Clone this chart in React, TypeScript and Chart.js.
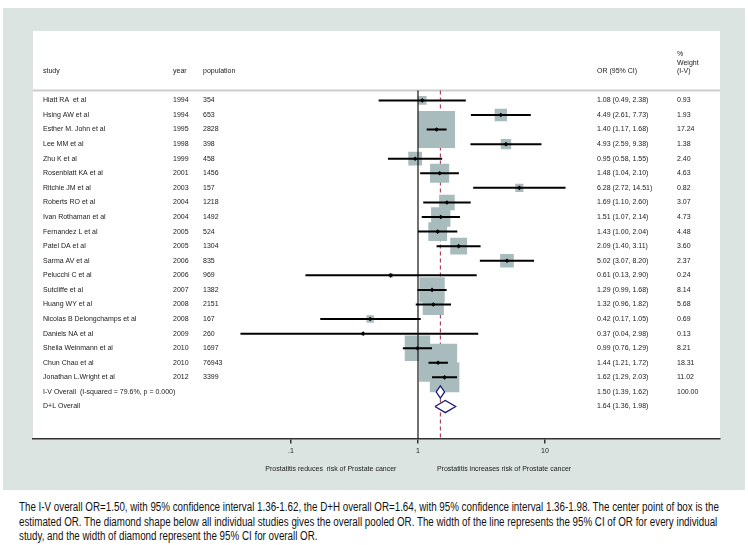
import React, { useEffect, useRef } from "react";
import { Chart, registerables } from "chart.js";
Chart.register(...registerables);

// ---- data ----
const studies = [
  "Hiatt RA  et al", "Hsing AW et al", "Esther M. John et al", "Lee MM et al", "Zhu K et al",
  "Rosenblatt KA et al", "Ritchie JM et al", "Roberts RO et al", "Ivan Rothaman et al", "Fernandez L et al",
  "Patel DA et al", "Sarma AV et al", "Pelucchi C et al", "Sutcliffe et al", "Huang WY et al",
  "Nicolas B Delongchamps et al", "Daniels NA et al", "Sheila Weinmann et al", "Chun Chao et al", "Jonathan L.Wright et al",
];
const years = [1994, 1994, 1995, 1998, 1999, 2001, 2003, 2004, 2004, 2005, 2005, 2006, 2006, 2007, 2008, 2008, 2009, 2010, 2010, 2012];
const populations = [354, 653, 2828, 398, 458, 1456, 157, 1218, 1492, 524, 1304, 835, 969, 1382, 2151, 167, 260, 1697, 76943, 3399];
const orEst = [1.08, 4.49, 1.40, 4.93, 0.95, 1.48, 6.28, 1.69, 1.51, 1.43, 2.09, 5.02, 0.61, 1.29, 1.32, 0.42, 0.37, 0.99, 1.44, 1.62];
const ciLow = [0.49, 2.61, 1.17, 2.59, 0.58, 1.04, 2.72, 1.10, 1.07, 1.00, 1.40, 3.07, 0.13, 0.99, 0.96, 0.17, 0.04, 0.76, 1.21, 1.29];
const ciHigh = [2.38, 7.73, 1.68, 9.38, 1.55, 2.10, 14.51, 2.60, 2.14, 2.04, 3.11, 8.20, 2.90, 1.68, 1.82, 1.05, 2.98, 1.29, 1.72, 2.03];
const weights = [0.93, 1.93, 17.24, 1.38, 2.40, 4.63, 0.82, 3.07, 4.73, 4.48, 3.60, 2.37, 0.24, 8.14, 5.68, 0.69, 0.13, 8.21, 18.31, 11.02];

const pooledLabels = ["I-V Overall  (I-squared = 79.6%, p = 0.000)", "D+L Overall"];
const pooledEst = [1.50, 1.64];
const pooledLow = [1.39, 1.36];
const pooledHigh = [1.62, 1.98];
const pooledWeight = ["100.00", ""];

const xTickValues = [0.1, 1, 10];
const xTickLabels = [".1", "1", "10"];
const favourLabels = ["Prostatitis reduces  risk of Prostate cancer", "Prostatitis increases risk of Prostate cancer"];

const captionLines = [
  "The I-V overall OR=1.50, with 95% confidence interval 1.36-1.62, the D+H overall OR=1.64, with 95% confidence interval 1.36-1.98. The center point of box is the",
  "estimated OR. The diamond shape below all individual studies gives the overall pooled OR. The  width of the line represents the 95% CI of OR for every individual",
  "study, and the width of diamond represent the 95% CI for overall OR.",
];

// ---- layout constants ----
const Y_MIN = -4.76;
const Y_MAX = 23.2;
const SEP_ROW = -0.68;
const X_MIN = 0.00093;
const X_MAX = 238.8;
const COL = { study: 43, year: 173, pop: 203, or: 597, wt: 677 };
const TXT_FONT = '7px "Liberation Sans", Arial, sans-serif';
const CAP_FONT = '12px "Liberation Sans", Arial, sans-serif';
const CAP_WIDTH = 700;

const fmt = (v: number) => v.toFixed(2);

function captionScale(): number {
  try {
    const c = document.createElement("canvas").getContext("2d");
    if (!c) return 0.88;
    c.font = CAP_FONT;
    const w = c.measureText(captionLines[0]).width;
    return w > 0 ? CAP_WIDTH / w : 0.88;
  } catch {
    return 0.88;
  }
}

export default function App() {
  const ref = useRef<HTMLCanvasElement | null>(null);
  const scale = captionScale();

  useEffect(() => {
    if (!ref.current) return;
    const n = studies.length;

    const ciSets = studies.map((_, i) => ({
      type: "line" as const,
      data: [{ x: ciLow[i], y: i }, { x: ciHigh[i], y: i }],
      borderColor: "#000",
      borderWidth: 2,
      pointRadius: 0,
      order: 1,
    }));

    const diamondSets = pooledEst.map((e, k) => {
      const y = n + k;
      return {
        type: "line" as const,
        data: [
          { x: pooledLow[k], y },
          { x: e, y: y - 0.42 },
          { x: pooledHigh[k], y },
          { x: e, y: y + 0.42 },
          { x: pooledLow[k], y },
        ],
        borderColor: "#1c1c7a",
        borderWidth: 1.3,
        backgroundColor: "#ffffff",
        fill: "shape",
        pointRadius: 0,
        order: 1,
      };
    });

    const textPlugin = {
      id: "forestText",
      beforeDraw(chart: any) {
        const { ctx, chartArea: a } = chart;
        ctx.save();
        ctx.fillStyle = "#ffffff";
        ctx.fillRect(a.left, a.top, a.right - a.left, a.bottom - a.top);
        const ys = chart.scales.y.getPixelForValue(SEP_ROW);
        ctx.fillStyle = "#cccccc";
        ctx.fillRect(a.left, ys - 1, a.right - a.left, 2);
        ctx.restore();
      },
      afterDraw(chart: any) {
        const { ctx } = chart;
        const ysc = chart.scales.y;
        const xsc = chart.scales.x;
        ctx.save();
        ctx.font = TXT_FONT;
        ctx.fillStyle = "#1a1a1a";
        ctx.textBaseline = "middle";
        ctx.textAlign = "left";
        const put = (t: string, x: number, row: number) => ctx.fillText(t, x, ysc.getPixelForValue(row));
        put("%", COL.wt, -3.2);
        put("Weight", COL.wt, -2.58);
        put("study", COL.study, -2);
        put("year", COL.year, -2);
        put("population", COL.pop, -2);
        put("OR (95% CI)", COL.or, -2);
        put("(I-V)", COL.wt, -2);
        studies.forEach((s, i) => {
          put(s, COL.study, i);
          put(String(years[i]), COL.year, i);
          put(String(populations[i]), COL.pop, i);
          put(`${fmt(orEst[i])} (${fmt(ciLow[i])}, ${fmt(ciHigh[i])})`, COL.or, i);
          put(fmt(weights[i]), COL.wt, i);
        });
        pooledLabels.forEach((s, k) => {
          const r = studies.length + k;
          put(s, COL.study, r);
          put(`${fmt(pooledEst[k])} (${fmt(pooledLow[k])}, ${fmt(pooledHigh[k])})`, COL.or, r);
          if (pooledWeight[k]) put(pooledWeight[k], COL.wt, r);
        });
        ctx.textAlign = "center";
        ctx.fillText(favourLabels[0], xsc.getPixelForValue(0.206), 469);
        ctx.fillText(favourLabels[1], xsc.getPixelForValue(4.76), 469);
        ctx.restore();
      },
    };

    const chart = new Chart(ref.current, {
      type: "scatter",
      data: {
        datasets: [
          // point estimates
          {
            type: "scatter",
            data: studies.map((_, i) => ({ x: orEst[i], y: i })),
            pointStyle: "rectRot",
            pointRadius: 2.3,
            backgroundColor: "#000",
            borderColor: "#000",
            borderWidth: 0,
            order: 0,
          },
          ...ciSets,
          ...diamondSets,
          // null line at OR = 1
          {
            type: "line",
            data: [{ x: 1, y: SEP_ROW }, { x: 1, y: Y_MAX }],
            borderColor: "#111",
            borderWidth: 1.2,
            pointRadius: 0,
            order: 2,
          },
          // weighted boxes
          {
            type: "scatter",
            data: studies.map((_, i) => ({ x: orEst[i], y: i })),
            pointStyle: "rect",
            pointRadius: weights.map((w) => (8.9 * Math.sqrt(w)) / Math.SQRT2),
            backgroundColor: "#a9bcbd",
            borderWidth: 0,
            order: 3,
          },
          // overall (I-V) dashed line
          {
            type: "line",
            data: [{ x: pooledEst[0], y: SEP_ROW }, { x: pooledEst[0], y: Y_MAX }],
            borderColor: "#a02040",
            borderWidth: 1,
            borderDash: [4, 3],
            pointRadius: 0,
            order: 4,
          },
        ] as any,
      },
      options: {
        animation: false,
        responsive: false,
        events: [],
        layout: { padding: { left: 33, right: 28, top: 31, bottom: 37 } },
        plugins: { legend: { display: false }, tooltip: { enabled: false } },
        scales: {
          x: {
            type: "logarithmic",
            min: X_MIN,
            max: X_MAX,
            afterBuildTicks: (s: any) => {
              s.ticks = xTickValues.map((v) => ({ value: v }));
            },
            ticks: {
              autoSkip: false,
              maxRotation: 0,
              padding: 3,
              color: "#222",
              font: { family: '"Liberation Sans", Arial, sans-serif', size: 7 },
              callback: (v: any) => {
                const idx = xTickValues.indexOf(Number(v));
                return idx >= 0 ? xTickLabels[idx] : "";
              },
            },
            grid: { display: true, drawOnChartArea: false, drawTicks: true, tickLength: 5, color: "#333", lineWidth: 1.5 },
            border: { display: true, color: "#333", width: 1.5 },
          },
          y: { type: "linear", reverse: true, min: Y_MIN, max: Y_MAX, display: false },
        },
      } as any,
      plugins: [textPlugin],
    });
    return () => chart.destroy();
  }, []);

  return (
    <div style={{ position: "fixed", left: 0, top: 0, width: 748, height: 545, background: "#fff", overflow: "hidden" }}>
      <div style={{ position: "absolute", left: 3, top: 8, width: 742, height: 482, background: "#dbe4e0" }} />
      <canvas ref={ref} width={748} height={495} style={{ position: "absolute", left: 0, top: 0, width: 748, height: 495 }} />
      <div
        style={{
          position: "absolute",
          left: 19,
          top: 500,
          font: CAP_FONT,
          lineHeight: "14.5px",
          color: "#111",
          whiteSpace: "nowrap",
          transform: `scaleX(${scale})`,
          transformOrigin: "left top",
        }}
      >
        {captionLines.map((l, i) => (
          <div key={i}>{l}</div>
        ))}
      </div>
    </div>
  );
}
